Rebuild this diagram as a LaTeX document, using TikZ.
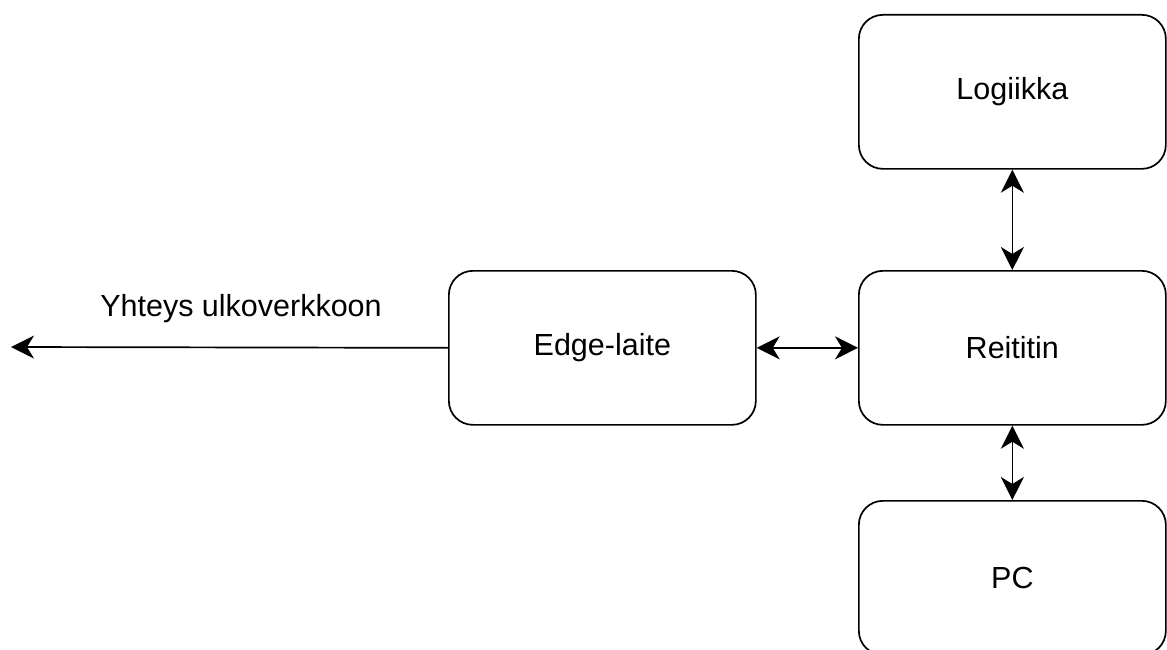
\documentclass[tikz,border=0pt]{standalone}
\usepackage{fontspec}
\setmainfont{Liberation Sans}
\usetikzlibrary{arrows.meta}
\begin{document}
\begin{tikzpicture}[x=1pt,y=-1pt,
  box/.style={draw=black, line width=1.7pt, rounded corners=24pt, minimum width=307pt, minimum height=154pt, inner sep=0pt, font=\fontsize{30.5}{36}\selectfont, anchor=north west},
  conn/.style={line width=1.7pt, {Stealth[length=23pt,width=23pt,inset=7pt]}-{Stealth[length=23pt,width=23pt,inset=7pt]}},
  oneway/.style={line width=1.7pt, -{Stealth[length=23pt,width=23pt,inset=7pt]}},
  lbl/.style={font=\fontsize{30.5}{36}\selectfont, inner sep=0pt}]
\useasboundingbox (0,0) rectangle (1167,650);
\node[box] (logic) at (858,14) {Logiikka};
\node[box] (router) at (858,270) {Reititin};
\node[box] (pc) at (858,500) {PC};
\node[box] (edge) at (448,270) {Edge-laite};
\coordinate (out) at (11,347);
\draw[conn] (logic.south) -- (router.north);
\draw[conn] (router.south) -- (pc.north);
\draw[conn] (edge.east) -- (router.west);
\draw[oneway] (edge.west) -- (out);
\node[lbl] (ext) at (241,309) {Yhteys ulkoverkkoon};
\end{tikzpicture}
\end{document}
